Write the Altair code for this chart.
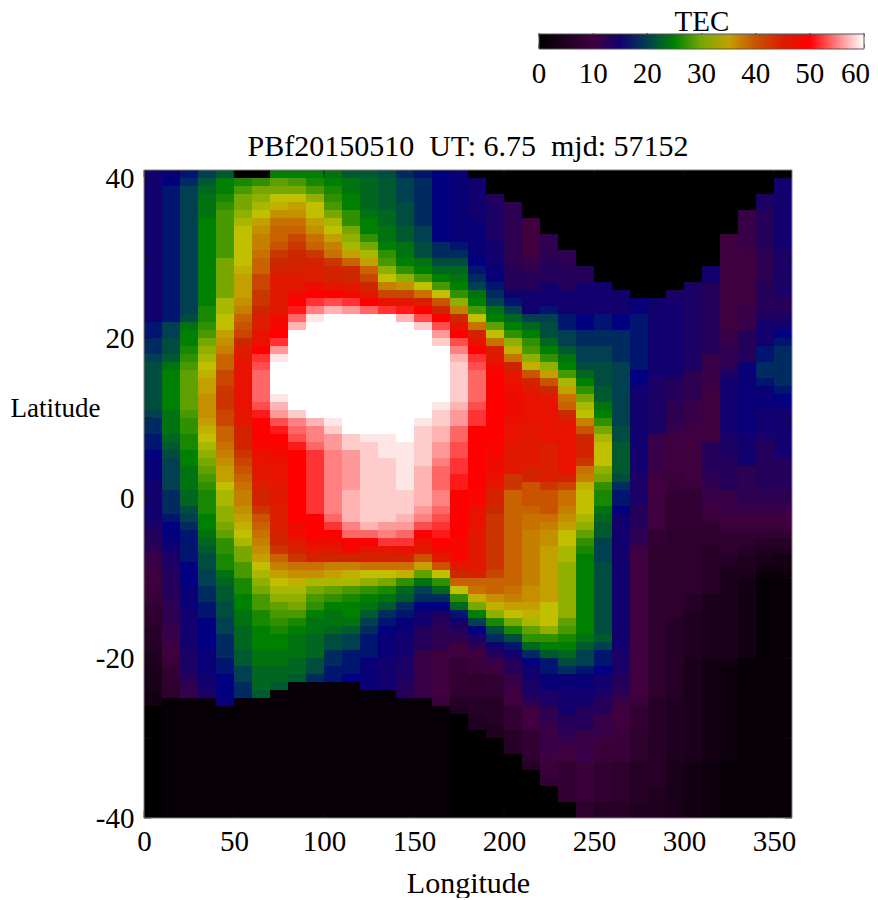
import altair as alt
import pandas as pd

FONT = "Liberation Serif"
TITLE = "PBf20150510\u00a0\u00a0UT: 6.75\u00a0\u00a0mjd: 57152"

c00 = [15]*19 + [18, 18,19,19,20,21,21,21,21,21,21, 20,19,19,18,18,17,16,16,16,15, 15,15,15,15,14,13,13,12,11,11,10, 10,9,9,8,7,7,6,6,6,5, 5,4,4,4,3,3] + [0]*14
c01 = [16,17,18,18,18,18,18,18,18,18, 18,18,18,18,18,18,18,18,18,20, 20,21,21,22,24,25,25,25,25,25, 24,24,24,23,22,21,20,20,20,20, 19,19,19,18,17,17,16,15,14,14,13, 13,13,13,12,12,12,11,11,10,10, 9,8,8,7,7] + [1]*15
c02 = [18,19,20,20,20,20,20,20,20,20, 20,20,20,20,20,20,20,20,21,24, 25,25,26,27,28,29,29,29,29,29, 28,27,27,26,26,25,25,24,24,24, 23,23,21,20,19,18,18,18,18,17,17, 17,16,16,16,15,15,15,15,15,14, 14,14,13,12,11] + [1]*15
c03 = [20,22,23,24,24,24,25,25,25,25, 25,25,25,25,25,25,25,26,26,27, 28,30,31,32,33,34,35,35,36,36, 36,35,34,33,32,31,30,29,28,27, 26,26,26,25,25,24,23,22,21,21,20, 20,19,19,18,18,17,17,17,17,16, 16,16,15,15,14] + [1]*15
c04 = [22,25,25,26,27,28,28,28,28,28, 28,30,30,30,30,30,32,32,33,33, 35,36,37,39,39,41,41,42,42,42, 41,41,39,39,38,37,36,35,35,33, 32,32,31,31,30,29,27,27,26,26,24, 23,22,22,21,21,20,20,19,19,19, 18,18,17,17,17,16] + [1]*14
c05 = [0,26,28,30,30,31,32,33,33,33, 33,33,34,35,35,35,36,37,39,40, 41,43,45,46,47,47,47,47,47,47, 46,46,44,44,44,42,41,40,39,38, 37,37,36,35,34,33,32,30,30,28,28, 26,26,25,25,24,24,23,23,23,22, 22,20,20,19,19] + [1]*15
c06 = [0,27,30,31,32,33,35,36,37,37, 38,39,39,41,41,42,42,43,45,45, 47,47,50,52,53,54,54,54,54,53, 51,50,50,50,49,47,47,46,46,45, 44,44,42,40,39,38,37,36,35,33,32, 31,30,28,28,26,26,25,25,25,24, 24,23,23,23,22] + [1]*15
c07 = [25,29,30,33,34,36,38,39,39,40, 42,43,44,46,46,46,46,46,48,49, 50,52,56,59,60,60,60,60,59,57, 56,53,51,50,49,48,47,47,47,46, 46,46,45,45,45,44,44,42,39,37,35, 33,32,31,29,28,27,26,25,25,24, 24,23,23,22] + [1]*16
c08 = [25,28,30,33,35,36,38,39,41,42, 43,44,44,46,46,48,50,51,54,57] + [60]*10 + [58,55,54,53,51,50,50,50,50,50, 50,50,50,50,48,48,46,44,42,38,36, 34,32,31,30,28,26,25,24,24,24, 23,23,22] + [1]*17
c09 = [25,26,28,31,33,33,35,36,38,39, 42,44,45,45,48,50,52,55,59,60] + [60]*10 + [60,57,55,55,54,52,52,52,52,52, 52,52,52,50,50,50,48,46,44,38,36, 32,30,28,27,25,24,24,23,23,23, 21,21,19] + [1]*17
c10 = [24,25,26,27,28,30,32,33,35,37, 38,42,44,44,46,50,53,57,60,60] + [60]*10 + [60,59,58,56,56,55,55,55,55,55, 55,55,55,54,52,50,48,46,43,37,35, 32,29,27,25,24,24,23,21,21,19, 19,18,18] + [1]*17
c11 = [22,24,24,25,25,27,27,30,31,32, 35,39,43,43,46,48,52,56,60,60] + [60]*10 + [60,60,60,58,58,56,56,56,56,56, 57,57,57,57,55,54,50,48,43,37,34, 32,28,26,25,25,24,22,20,20,18, 18,18,17] + [1]*17
c12 = [22,23,23,23,23,24,25,25,27,30, 32,35,39,41,43,46,50,54,60,60] + [60]*10 + [60,60,60,59,58,58,58,58,58,58, 58,58,58,58,57,54,50,46,44,38,33, 31,27,25,24,22,20,19,18,18,18, 16,16,16,16] + [1]*16
c13 = [21,22,22,22,22,23,23,24,24,25, 27,28,31,33,37,41,47,52,60,60] + [60]*10 + [60,60,60,59,59,59,58,58,58,58, 58,58,58,58,56,55,52,46,44,38,33, 30,26,24,22,19,18,17,16,16,16, 15,15,15,15] + [1]*16
c14 = [19,20,20,20,21,21,21,22,22,24, 24,25,27,31,36,41,46,51,57,60] + [60]*10 + [60,60,60,60,59,59,59,59,59,59, 58,58,58,57,56,54,52,47,44,38,34, 27,23,22,19,18,16,16,15,15,15, 14,14,14,13,13] + [1]*15
c15 = [18,19,19,19,19,19,19,20,20,21, 21,24,25,28,33,38,45,50,53,58] + [60]*10 + [60,59,58,58,58,58,58,57,57,57, 57,57,56,55,53,50,47,46,40,35,29, 24,20,19,17,15,15,13,13,13,11, 11,11,11,11,11] + [1]*15
c16 = [17,17,17,17,17,17,17,17,17,19, 19,21,23,25,28,33,40,44,50,53, 56,58,60,60,60,60,60,60,60,59, 58,58,57,57,56,56,55,54,54,54, 55,55,54,53,52,51,50,48,46,40,33, 27,23,19,17,14,13,12,12,12,10, 10,10,10,10,10,9] + [1]*14
c17 = [16,16,16,16,16,16,16,16,16,18, 19,21,23,24,25,27,31,37,43,47, 50,53,55,57,58,58,58,58,58,57, 56,56,54,54,53,53,52,52,51,51, 50,50,50,50,50,50,49,49,49,46,43, 39,33,27,23,18,15,13,12,10,10, 8,8,8,8,7,6,5] + [0]*13
c18 = [0,15,15,15,15,15,16,16,16,16, 16,17,18,19,20,24,25,28,33,38, 44,47,50,52,53,54,54,54,54,53, 52,52,50,50,50,50,50,50,50,50, 49,49,47,47,47,46,46,46,46,46,44, 39,38,34,30,25,20,17,14,12,10, 9,9,7,7,7,6,6,5,5] + [0]*11
c19 = [0,0,0,13,14,14,14,14,14,15, 15,15,16,16,18,19,20,24,25,29, 33,38,45,46,48,50,50,50,50,50, 50,50,50,50,49,49,48,48,47,46, 44,44,43,42,42,42,42,42,42,42,41, 39,39,36,34,31,26,21,19,15,13, 11,10,8,8,7,6,6,6,5,5] + [0]*10
c20 = [0,0,0,0,12,12,12,12,12,12, 12,12,13,13,13,15,18,20,23,25, 27,31,34,38,44,46,47,48,48,48, 48,47,47,47,46,46,46,46,42,42, 39,39,39,39,39,39,39,39,39,39,39, 39,38,37,35,33,30,26,21,18,15, 13,13,11,11,10,10,8,8,8,6,6,6] + [0]*8
c21 = [0,0,0,0,0,0,10,10,10,10, 10,11,12,13,13,15,15,15,20,23, 25,27,28,31,34,40,44,46,47,47, 47,47,46,46,46,46,46,44,44,40, 40,40,39,38,38,37,37,37,37,37,37, 37,36,36,35,34,32,29,27,23,19, 17,15,15,14,14,12,10,10,10,8, 8,8,7,6] + [0]*6
c22 = [0,0,0,0,0,0,0,0,12,12, 12,13,13,13,15,15,15,18,20,21, 21,23,25,27,31,35,40,43,46,47, 47,47,47,47,45,45,45,45,45,42, 40,40,40,38,37,36,36,35,35,35,35, 35,35,35,33,33,33,31,27,25,22, 18,18,16,16,14,14,12,12,11,11, 11,11,10,9,9,8] + [0]*4
c23 = [0]*10 + [12,12,13,13,13,15,15,15,18,18, 20,20,22,24,25,28,32,35,38,39, 43,46,47,47,47,47,47,47,44,41, 38,38,37,36,35,33,33,32,32,31,31, 31,31,31,31,31,29,28,26,25,23, 21,19,16,16,15,15,15,13,13,12, 11,10,10,8,8,8,8,8] + [0]*2
c24 = [0]*12 + [13,13,15,15,15,15,17,17, 19,19,20,20,21,23,25,27,30,32, 33,37,40,43,44,44,42,38,37,34, 33,33,33,32,31,29,27,26,25,25,25, 25,25,25,25,25,25,25,24,22,20, 20,18,16,16,15,15,13,13,13,11, 11,11,11,9,9,9,9,9,7,7]
c25 = [0]*14 + [15,15,15,15,18,18, 19,19,20,20,21,21,21,22,22,24, 25,27,30,32,33,33,33,31,30,27, 26,26,24,23,22,22,20,20,20,21,21, 21,21,21,21,21,21,21,22,20,18, 18,17,15,15,14,13,13,11,11,11, 9,9,9,8,8,8,8,8,6,6]
c26 = [0]*15 + [15,15,15,17,17, 19,19,19,19,20,20,20,20,20,20, 20,20,21,21,22,22,22,22,21,19, 18,18,17,15,15,15,15,15,15,15,15, 15,15,15,15,15,15,15,15,15,14, 14,14,13,13,12,11,10,10,10,9, 9,9,9,7,7,7,7,7,6,6]
c27 = [0]*16 + [16,16,18,18, 18,18,18,18,18,17,17,15,15,15, 15,15,15,15,15,15,15,15,14,14, 14,14,13,13,13,12,12,10,10,10,10, 10,10,10,10,10,10,10,10,10,10, 10,10,10,10,10,9,8,8,8,7, 7,7,7,6,6,6,6,6,5,5]
c28 = [0]*16 + [15,15,15,15, 15,15,15,15,15,15,14,14,14,14, 14,14,14,11,11,11,11,11,10,10, 10,10,10,10,10,8,8,7,7,7,7, 7,7,7,7,7,7,7,7,7,7, 7,7,7,7,7,6,6,6,6,6, 6,6,6,6,6,6,5,5,5,5]
c29 = [0]*15 + [14,15,15,15,15, 15,15,15,15,15,15,13,13,13,12, 12,12,11,10,10,10,10,10,9,9, 8,8,8,8,8,7,7,7,7,7,7, 7,7,7,7,7,6,6,6,6,6, 6,6,6,6,6,5,5,5,5,5, 5,5,5,4,4,4,4,4,4,4]
c30 = [0]*14 + [14,14,14,14,14,14, 14,14,14,14,14,12,12,12,12,11, 11,11,10,10,10,10,10,10,10,9, 8,8,8,8,8,7,7,7,7,7,7, 7,7,6,6,5,5,5,5,5,5, 4,4,4,4,4,4,4,4,4,4, 4,4,4,3,3,3,3,3,3,3]
c31 = [0]*12 + [15,15,13,13,13,13,13,13, 13,13,13,11,11,11,11,10,10,10, 10,10,10,10,13,13,13,13,12,12, 11,11,10,9,8,7,7,6,6,6,6, 6,6,4,4,4,4,4,4,4,4, 3,3,3,3,3,3,3,3,3,3, 3,3,3,2,2,2,2,2,2,2]
c32 = [0]*8 + [10,10, 10,10,10,10,10,10,10,10,10,10, 11,11,12,12,12,14,15,15,15,15, 15,15,15,14,14,14,13,13,13,13, 11,11,11,10,9,8,7,7,6,5,4, 4,4,4,4,4,4,4,4,4,4, 3,2,2,2,2,2,2,2,2,2, 2,2,2,1,1,1,1,1,1,1]
c33 = [0]*5 + [11,11,11,11,11, 10,10,10,10,10,10,10,11,11,11, 13,13,13,13,16,16,16,16,16,16, 16,16,16,15,15,15,15,12,12,12, 12,12,11,10,9,8,7,6,5,5,4, 3,3,3,3,3,3,3,3,3,3] + [1]*20
c34 = [0,0,0,14,14,13,13,13,13,13, 12,12,12,12,13,13,13,13,14,15, 15,15,18,18,19,19,18,16,16,16, 15,15,15,14,13,13,13,13,13,13, 12,12,11,10,9,8,6,5,4,3,2] + [1]*30
c35 = [0,15,15,15,15,15,15,15,15,15, 14,14,14,14,14,14,13,13,14,15, 17,18,19,19,19,19,19,18,17,16, 15,15,15,15,15,15,13,13,13,13, 12,12,11,10,9,8,6,5,3,3,2] + [1]*30

columns = [c00,c01,c02,c03,c04,c05,c06,c07,c08,c09,c10,c11,c12,c13,c14,c15,c16,c17,
           c18,c19,c20,c21,c22,c23,c24,c25,c26,c27,c28,c29,c30,c31,c32,c33,c34,c35]
for k, c in enumerate(columns):
    assert len(c) == 81, (k, len(c))

stops = [0, 10, 17, 20, 25, 33, 38, 43, 50, 60]
stop_colors = ["#000000", "#400040", "#000080", "#004050", "#008000", "#c0c000",
               "#c87000", "#cc2800", "#ff0000", "#ffffff"]
xticks = [0, 50, 100, 150, 200, 250, 300, 350]
yticks = [-40, -20, 0, 20, 40]
yticks_minor = [-40, -30, -20, -10, 0, 10, 20, 30, 40]
bar_ticks = [0, 10, 20, 30, 40, 50, 60]
bar_labels_center = [0, 10, 20, 30, 40, 50]
bar_labels_end = [60]

rows = []
for k, col in enumerate(columns):
    for j, v in enumerate(col):
        rows.append({"lon": 10 * k, "lon2": 10 * k + 10, "lat": 40 - j, "lat2": 41 - j, "tec": v})
df = pd.DataFrame(rows)

W, H = 648, 648
xs = alt.Scale(domain=[0, 360], nice=False, zero=False)
ys = alt.Scale(domain=[-40, 41], nice=False, zero=False)
cs = alt.Scale(domain=stops, range=stop_colors, interpolate="rgb", clamp=True)
bar_x = alt.Scale(domain=[0, 60], range=[395, 720], nice=False, zero=False)

heat = alt.Chart(df).mark_rect().encode(
    x=alt.X("lon:Q", scale=xs, axis=alt.Axis(
        title="Longitude", values=xticks, grid=False, domain=False, ticks=False,
        labelFont=FONT, labelFontSize=29, labelColor="black", labelPadding=9,
        titleFont=FONT, titleFontSize=30, titleFontWeight="normal", titleColor="black",
        titlePadding=12, labelFlush=False)),
    x2="lon2:Q",
    y=alt.Y("lat:Q", scale=ys, axis=alt.Axis(
        title="Latitude", values=yticks, grid=False, domain=False, ticks=False,
        labelExpr="'' + datum.value",
        labelFont=FONT, labelFontSize=29, labelColor="black", labelPadding=10,
        titleFont=FONT, titleFontSize=27, titleFontWeight="normal", titleColor="black",
        titleAngle=0, titleAlign="right", titleBaseline="middle", titleX=-44, titleY=238)),
    y2="lat2:Q",
    color=alt.Color("tec:Q", scale=cs, legend=alt.Legend(
        title="TEC", orient="none", direction="horizontal", legendX=395, legendY=-162,
        gradientLength=325, gradientThickness=15, values=bar_ticks, labelExpr="''",
        labelFont=FONT, labelFontSize=10,
        titleFont=FONT, titleFontSize=29, titleFontWeight="normal", titleColor="black",
        titleAnchor="middle", titlePadding=-3, gradientStrokeColor="#555555", gradientStrokeWidth=1)),
)

tx = pd.DataFrame({"v": xticks})
ty = pd.DataFrame({"v": yticks_minor})
tick_style = dict(color="#101010", strokeWidth=1, opacity=0.85)
top_t = alt.Chart(tx).mark_rule(**tick_style).encode(x=alt.X("v:Q", scale=xs, axis=None), y=alt.value(0), y2=alt.value(7))
bot_t = alt.Chart(tx).mark_rule(**tick_style).encode(x=alt.X("v:Q", scale=xs, axis=None), y=alt.value(H - 7), y2=alt.value(H))
lef_t = alt.Chart(ty).mark_rule(**tick_style).encode(y=alt.Y("v:Q", scale=ys), x=alt.value(0), x2=alt.value(7))
rig_t = alt.Chart(ty).mark_rule(**tick_style).encode(y=alt.Y("v:Q", scale=ys), x=alt.value(W - 7), x2=alt.value(W))
frame = alt.Chart(pd.DataFrame({"a": [0]})).mark_rect(fillOpacity=0, stroke="#808080", strokeWidth=1).encode(
    x=alt.value(0), x2=alt.value(W), y=alt.value(0), y2=alt.value(H))

bt = pd.DataFrame({"v": bar_ticks})
bar_top = alt.Chart(bt).mark_rule(color="#202020", strokeWidth=1).encode(
    x=alt.X("v:Q", scale=bar_x, axis=None), y=alt.value(-137), y2=alt.value(-133))
bar_bot = alt.Chart(bt).mark_rule(color="#202020", strokeWidth=1).encode(
    x=alt.X("v:Q", scale=bar_x, axis=None), y=alt.value(-126), y2=alt.value(-122))
lab_c = alt.Chart(pd.DataFrame({"v": bar_labels_center})).mark_text(
    font=FONT, fontSize=29, color="black", align="center", baseline="middle").encode(
    x=alt.X("v:Q", scale=bar_x, axis=None), y=alt.value(-96), text="v:Q")
lab_e = alt.Chart(pd.DataFrame({"v": bar_labels_end})).mark_text(
    font=FONT, fontSize=29, color="black", align="right", baseline="middle", dx=6).encode(
    x=alt.X("v:Q", scale=bar_x, axis=None), y=alt.value(-96), text="v:Q")

chart = alt.layer(heat, top_t, bot_t, lef_t, rig_t, frame, bar_top, bar_bot, lab_c, lab_e).resolve_scale(
    x="independent"
).properties(
    width=W, height=H,
    title=alt.TitleParams(TITLE, font=FONT, fontSize=30, fontWeight="normal", color="black",
                          anchor="middle", offset=6, dy=160),
    autosize=alt.AutoSizeParams(type="none"),
    padding={"left": 136, "top": 162, "right": 78, "bottom": 80},
).configure_view(stroke=None)

chart.save("out.html", embed_options={"renderer": "svg", "actions": False})
